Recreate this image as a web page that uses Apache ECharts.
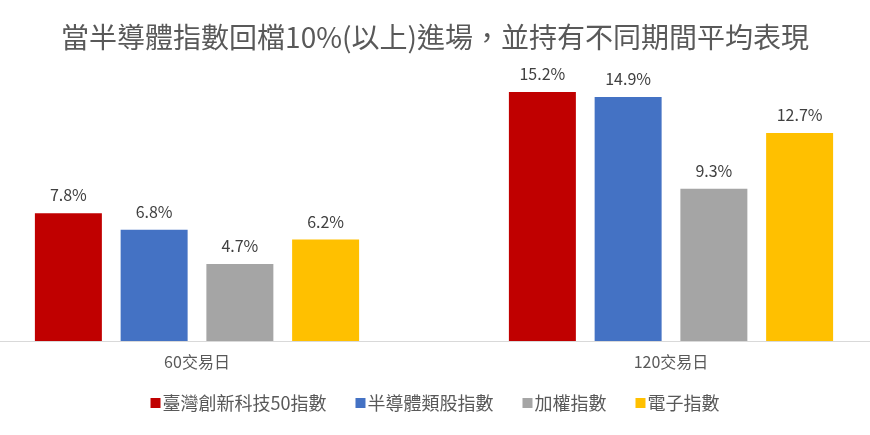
<!DOCTYPE html>
<html><head><meta charset="utf-8">
<script src="https://cdn.jsdelivr.net/npm/echarts@6/dist/echarts.min.js"></script>
<style>html,body{margin:0;padding:0;background:#fff}#c{width:870px;height:435px}</style>
</head><body><div id="c"></div>
<script>
const titleText = '當半導體指數回檔10%(以上)進場，並持有不同期間平均表現';
const categories = ['60交易日', '120交易日'];
const seriesNames = ['臺灣創新科技50指數', '半導體類股指數', '加權指數', '電子指數'];
const seriesColors = ['#C00000', '#4472C4', '#A5A5A5', '#FFC000'];
const tw50 = [7.8, 15.2];
const semi = [6.8, 14.9];
const taiex = [4.7, 9.3];
const elec = [6.2, 12.7];
const values = [tw50, semi, taiex, elec];

const font = '"Noto Sans CJK TC", "Noto Sans", sans-serif';
const chart = echarts.init(document.getElementById('c'));
chart.setOption({
  animation: false,
  backgroundColor: '#fff',
  title: {
    text: titleText, left: 'center', top: 18,
    textStyle: { fontFamily: font, fontSize: 28, fontWeight: 'normal', color: '#595959' }
  },
  legend: {
    data: seriesNames, bottom: 18, left: 'center',
    itemWidth: 10, itemHeight: 10, itemGap: 29, icon: 'rect',
    textStyle: { fontFamily: font, fontSize: 18, color: '#595959', padding: [0, 0, 0, -3] }
  },
  grid: { left: -40, width: 948, top: 79, bottom: 94, containLabel: false, outerBoundsMode: 'none' },
  xAxis: {
    type: 'category', data: categories,
    axisLine: { lineStyle: { color: '#D9D9D9', width: 1 } },
    axisTick: { show: false },
    axisLabel: { fontFamily: font, fontSize: 16, color: '#595959', margin: 13 }
  },
  yAxis: { type: 'value', min: 0, max: 16, show: false, splitLine: { show: false } },
  series: seriesNames.map((n, i) => ({
    name: n, type: 'bar', data: values[i],
    itemStyle: { color: seriesColors[i] },
    barGap: '28%', barCategoryGap: '31.6%',
    label: {
      show: true, position: 'top', distance: 10,
      formatter: p => p.value.toFixed(1) + '%',
      fontFamily: font, fontSize: 16, color: '#404040'
    }
  }))
});
</script></body></html>
